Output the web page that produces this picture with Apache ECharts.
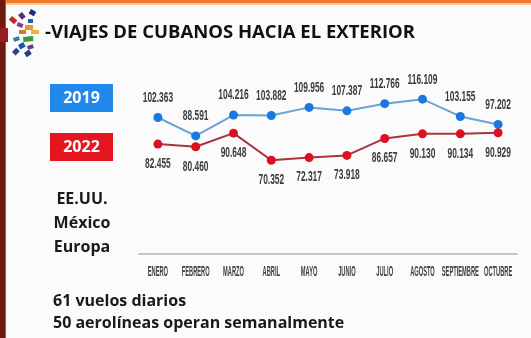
<!DOCTYPE html>
<html>
<head>
<meta charset="utf-8">
<script src="https://cdn.jsdelivr.net/npm/echarts@6/dist/echarts.min.js"></script>
<style>
html,body{margin:0;padding:0;background:#fbfbfb;}
#chart{width:531px;height:338px;}
</style>
</head>
<body>
<div id="chart"></div>
<script>
var months = ['ENERO','FEBRERO','MARZO','ABRIL','MAYO','JUNIO','JULIO','AGOSTO','SEPTIEMBRE','OCTUBRE'];
var values2019 = [102363, 88591, 104216, 103882, 109956, 107387, 112766, 116109, 103155, 97202];
var values2022 = [82455, 80460, 90648, 70352, 72317, 73918, 86657, 90130, 90134, 90929];
var legendYears = ['2019', '2022'];
var destinations = ['EE.UU.', 'México', 'Europa'];
var footnotes = ['61 vuelos diarios', '50 aerolíneas operan semanalmente'];
var titleText = '-VIAJES DE CUBANOS HACIA EL EXTERIOR';

function fmtNum(v){ return (v/1000).toFixed(3); }

var chart = echarts.init(document.getElementById('chart'), null, {renderer:'canvas'});

var bold = '"Open Sans", "DejaVu Sans", sans-serif';
var arial = '"Liberation Sans", Arial, sans-serif';

var option = {
  backgroundColor:'#fbfbfb',
  animation:false,
  grid:{left:139, right:14, top:54, bottom:84},
  xAxis:{
    type:'category', data:months, boundaryGap:true,
    axisLine:{lineStyle:{color:'#c6c6c6', width:2}},
    axisTick:{show:false},
    axisLabel:{show:false}
  },
  yAxis:{type:'value', min:0, max:150000, show:false, splitLine:{show:false}},
  series:[
    {name:'2019', type:'line', data:values2019, symbol:'circle', symbolSize:9,
     itemStyle:{color:'#1a78de'}, lineStyle:{color:'#6aa3d8', width:2}, label:{show:false}},
    {name:'2022', type:'line', data:values2022, symbol:'circle', symbolSize:9,
     itemStyle:{color:'#dc1020'}, lineStyle:{color:'#a8343e', width:2}, label:{show:false}}
  ]
};
chart.setOption(option);

// decorative logo pieces
var logoPieces = [
  {x:31,y:9,w:6,h:5,r:-0.5,c:'#1d2f7a'},
  {x:22,y:12,w:6,h:5,r:-0.9,c:'#5a2d82'},
  {x:12,y:16,w:7,h:5,r:-0.7,c:'#c0282d'},
  {x:18,y:22,w:6,h:4,r:-0.4,c:'#8a3b8f'},
  {x:28,y:19,w:5,h:4,r:0,c:'#2c5aa0'},
  {x:25,y:25,w:8,h:5,r:0,c:'#e8962e'},
  {x:31,y:30,w:8,h:4,r:0,c:'#f0b040'},
  {x:19,y:30,w:7,h:4,r:0,c:'#d9772a'},
  {x:23,y:37,w:10,h:5,r:0.1,c:'#3a9a3a'},
  {x:13,y:38,w:6,h:4,r:0.3,c:'#2d7d9a'},
  {x:18,y:45,w:6,h:5,r:0.5,c:'#1f5aa8'},
  {x:27,y:46,w:6,h:4,r:0.3,c:'#6a3a8a'},
  {x:12,y:52,w:6,h:5,r:0.8,c:'#2a3f8f'},
  {x:24,y:53,w:6,h:5,r:0.6,c:'#1f3d8a'}
];
var graphics = [
  {type:'rect', left:0, top:0, shape:{width:531,height:3}, style:{fill:'#f07b2c'}, silent:true},
  {type:'rect', left:0, top:3, shape:{width:531,height:2}, style:{fill:'#f7c9a3'}, silent:true},
  {type:'rect', left:0, top:0, shape:{width:5,height:338}, style:{fill:'#6e1a0c'}, silent:true},
  {type:'rect', left:5, top:0, shape:{width:1,height:338}, style:{fill:'#c0502a'}, silent:true},
  {type:'rect', left:0, top:28, shape:{width:8,height:14}, style:{fill:'#9a1c1c'}, silent:true}
];
logoPieces.forEach(function(p){
  graphics.push({type:'rect', x:p.x, y:p.y, rotation:p.r, originX:0, originY:0,
    shape:{width:p.w,height:p.h}, style:{fill:p.c}, silent:true});
});
graphics.push({type:'text', x:45, y:32.5, style:{text:titleText, font:'bold 18.5px ' + bold, fill:'#111', verticalAlign:'middle'}});
var boxColors = ['#2189ec', '#e5161f'];
legendYears.forEach(function(y, i){
  graphics.push({type:'rect', left:50, top:84 + i*49, shape:{width:63,height:28}, style:{fill:boxColors[i]}, silent:true});
  graphics.push({type:'text', x:81.5, y:98 + i*49, style:{text:y, font:'bold 16px ' + bold, fill:'#fff', align:'center', verticalAlign:'middle'}});
});
destinations.forEach(function(d, i){
  graphics.push({type:'text', x:82, y:199 + i*24, style:{text:d, font:'bold 16px ' + bold, fill:'#1a1a1a', align:'center', verticalAlign:'middle'}});
});
footnotes.forEach(function(t, i){
  graphics.push({type:'text', x:53, y:301 + i*22, style:{text:t, font:'bold 16px ' + bold, fill:'#1a1a1a', align:'left', verticalAlign:'middle'}});
});

// condensed category labels, placed through the axis scale
months.forEach(function(m, i){
  var p = chart.convertToPixel({xAxisIndex:0, yAxisIndex:0}, [i, 0]);
  graphics.push({type:'text', x:p[0], y:p[1] + 18, scaleX:0.38, silent:true,
    style:{text:m, font:'bold 15px ' + arial, fill:'#3e3e3e', align:'center', verticalAlign:'middle'}});
});
// condensed value labels, placed through the series scale
values2019.forEach(function(v, i){
  var p = chart.convertToPixel({seriesIndex:0}, [i, v]);
  graphics.push({type:'text', x:p[0], y:p[1] - 19.5, scaleX:0.6, silent:true,
    style:{text:fmtNum(v), font:'bold 14px ' + arial, fill:'#3c3c3c', align:'center', verticalAlign:'middle'}});
});
values2022.forEach(function(v, i){
  var p = chart.convertToPixel({seriesIndex:1}, [i, v]);
  graphics.push({type:'text', x:p[0], y:p[1] + 20, scaleX:0.6, silent:true,
    style:{text:fmtNum(v), font:'bold 14px ' + arial, fill:'#3c3c3c', align:'center', verticalAlign:'middle'}});
});

chart.setOption({graphic:graphics});
</script>
</body>
</html>
